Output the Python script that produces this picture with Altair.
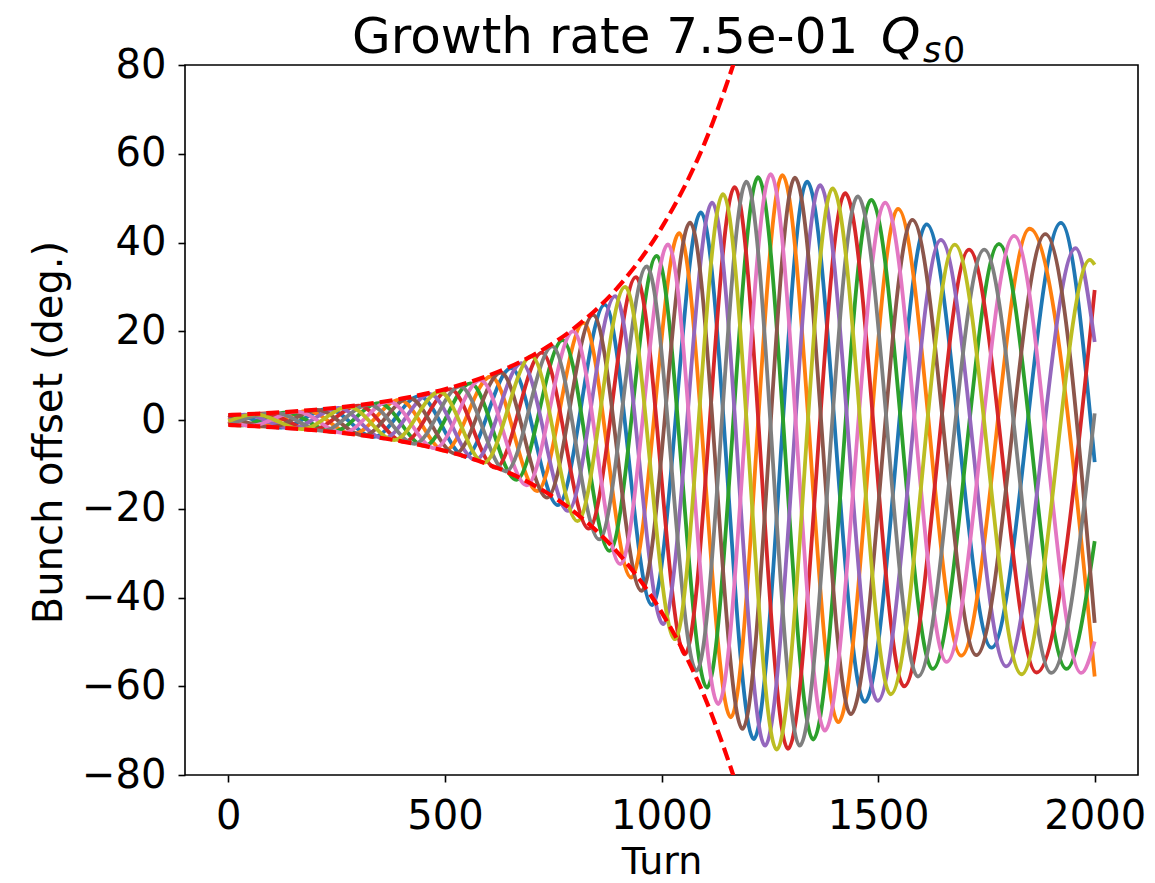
import altair as alt
import pandas as pd

# ---- bunch offsets: extrema (turn, deg.), per bunch ----
b0_turn = [0, 14, 122, 230, 336, 441, 547, 653, 761, 869, 978, 1091, 1213, 1336, 1469, 1612, 1762, 1922, 2000]
b0_off = [1.02, 1.12, -1.74, 2.48, -3.80, 5.38, -8.24, 11.7, -19.2, 26.0, -41.7, 46.8, -71.9, 53.7, -63.5, 44.1, -51.3, 44.4, -9.5]

b1_turn = [0, 75, 182, 288, 395, 500, 606, 713, 820, 930, 1041, 1160, 1279, 1408, 1546, 1692, 1850, 2000]
b1_off = [0.63, -1.46, 2.07, -3.19, 4.53, -6.94, 9.8, -16.0, 21.9, -35.5, 42.1, -67.0, 55.2, -68.1, 47.6, -53.1, 43.1, -57.8]

b2_turn = [0, 27, 134, 241, 348, 453, 559, 665, 772, 880, 989, 1105, 1223, 1350, 1484, 1626, 1779, 1935, 2000]
b2_off = [-0.8, -1.23, 1.74, -2.69, 3.81, -5.84, 8.26, -13.5, 18.0, -29.5, 37.0, -60.3, 54.7, -72.0, 49.6, -56.1, 39.7, -56.1, -27.3]

b3_turn = [0, 86, 193, 301, 406, 512, 617, 724, 832, 941, 1054, 1169, 1292, 1424, 1560, 1710, 1866, 2000]
b3_off = [-0.9, 1.46, -2.25, 3.22, -4.92, 6.95, -10.8, 15.2, -24.5, 32.2, -52.8, 52.5, -74.1, 51.1, -60.0, 38.4, -56.9, 29.3]

b4_turn = [0, 38, 146, 254, 359, 465, 571, 677, 784, 893, 1004, 1117, 1239, 1366, 1499, 1645, 1796, 1956, 2000]
b4_off = [0.49, 1.23, -1.90, 2.71, -4.14, 5.86, -9.0, 12.8, -20.5, 27.9, -46.0, 49.0, -73.4, 52.9, -63.3, 40.6, -55.5, 38.7, 17.6]

b5_turn = [0, 99, 206, 312, 418, 524, 629, 736, 842, 954, 1066, 1187, 1308, 1437, 1579, 1727, 1886, 2000]
b5_off = [1.07, -1.60, 2.27, -3.48, 4.93, -7.58, 10.7, -17.5, 23.7, -38.5, 44.5, -69.6, 54.6, -66.3, 45.1, -53.0, 41.9, -45.7]

b6_turn = [0, 51, 158, 265, 371, 477, 582, 689, 796, 905, 1015, 1131, 1252, 1377, 1516, 1658, 1814, 1969, 2000]
b6_off = [-0.1, -1.34, 1.90, -2.93, 4.16, -6.38, 9.0, -14.7, 20.0, -32.5, 39.6, -64.0, 55.4, -70.0, 49.0, -54.5, 41.5, -57.0, -49.9]

b7_turn = [0, 110, 217, 325, 430, 535, 641, 748, 856, 966, 1081, 1196, 1319, 1453, 1592, 1745, 1900, 2000]
b7_off = [-1.1, 1.59, -2.46, 3.49, -5.37, 7.57, -11.6, 16.6, -26.9, 34.6, -56.5, 53.7, -73.4, 50.4, -57.8, 38.4, -57.0, 1.5]

b8_turn = [0, 62, 170, 278, 383, 488, 590, 700, 806, 916, 1031, 1142, 1266, 1395, 1529, 1677, 1831, 1989, 2000]
b8_off = [-0.27, 1.33, -2.07, 2.95, -4.52, 6.37, -9.6, 14.4, -22.8, 30.0, -49.4, 50.9, -74.3, 52.2, -61.8, 39.5, -57.3, 36.1, 35.0]

# ---- red dashed growth envelope ----
env_turn = [0, 100, 200, 300, 400, 500, 600, 700, 800, 900, 1000, 1100, 1200]
env_upper = [1.11, 1.60, 2.31, 3.33, 4.81, 6.94, 10.0, 14.4, 20.8, 30.0, 43.3, 62.5, 90.2]
env_lower = [-1.11, -1.60, -2.31, -3.33, -4.81, -6.94, -10.0, -14.4, -20.8, -30.0, -43.3, -62.5, -90.2]

x_ticks = [0, 500, 1000, 1500, 2000]
y_ticks = [-80, -60, -40, -20, 0, 20, 40, 60, 80]

tab10 = ["#1f77b4", "#ff7f0e", "#2ca02c", "#d62728", "#9467bd",
         "#8c564b", "#e377c2", "#7f7f7f", "#bcbd22"]

turns = [b0_turn, b1_turn, b2_turn, b3_turn, b4_turn, b5_turn, b6_turn, b7_turn, b8_turn]
offs = [b0_off, b1_off, b2_off, b3_off, b4_off, b5_off, b6_off, b7_off, b8_off]

rows = []
for b, (tt, vv) in enumerate(zip(turns, offs)):
    for t, v in zip(tt, vv):
        rows.append({"turn": t, "offset": v, "bunch": b})
df = pd.DataFrame(rows)

env_rows = []
for t, v in zip(env_turn, env_upper):
    env_rows.append({"turn": t, "offset": v, "side": "upper"})
for t, v in zip(env_turn, env_lower):
    env_rows.append({"turn": t, "offset": v, "side": "lower"})
env = pd.DataFrame(env_rows)

FONT = "DejaVu Sans"
W, H = 953, 710

x_enc = alt.X("turn:Q",
              scale=alt.Scale(domain=[-100, 2100], nice=False, zero=False),
              axis=alt.Axis(values=x_ticks, title="Turn", format="d",
                            labelBaseline="alphabetic", labelPadding=46,
                            titleY=98, titleX=W / 2, titleBaseline="alphabetic",
                            titleAlign="center", titleFontSize=38))
y_enc = alt.Y("offset:Q",
              scale=alt.Scale(domain=[-80, 80], nice=False, zero=False),
              axis=alt.Axis(values=y_ticks, title="Bunch offset (deg.)",
                            labelExpr="datum.value < 0 ? '\u2212' + abs(datum.value) : '' + datum.value",
                            labelPadding=12, titleX=-124, titleY=H / 2 + 12,
                            titleAngle=-90, titleAlign="center",
                            titleBaseline="alphabetic"))

lines = alt.Chart(df).mark_line(interpolate="monotone", strokeWidth=3.8, clip=True).encode(
    x=x_enc, y=y_enc,
    color=alt.Color("bunch:N", scale=alt.Scale(domain=list(range(9)), range=tab10), legend=None),
    order=alt.Order("turn:Q"),
)

dashed = alt.Chart(env).mark_line(color="#ff0000", strokeDash=[13, 6], strokeWidth=4.2,
                                  interpolate="monotone", clip=True).encode(
    x="turn:Q", y="offset:Q", detail="side:N", order=alt.Order("turn:Q"))

title_df = pd.DataFrame({"a": ["Growth rate 7.5e-01"], "q": ["Q"], "s": ["s"], "z": ["0"]})
t_main = alt.Chart(title_df).mark_text(font=FONT, fontSize=50, align="left", baseline="alphabetic",
                                       color="black").encode(text="a:N", x=alt.value(167), y=alt.value(-12))
t_q = alt.Chart(title_df).mark_text(font=FONT, fontSize=50, fontStyle="italic", align="left",
                                    baseline="alphabetic", color="black").encode(
    text="q:N", x=alt.value(696), y=alt.value(-12))
t_s = alt.Chart(title_df).mark_text(font=FONT, fontSize=35, fontStyle="italic", align="left",
                                    baseline="alphabetic", color="black").encode(
    text="s:N", x=alt.value(738), y=alt.value(-3))
t_z = alt.Chart(title_df).mark_text(font=FONT, fontSize=35, align="left",
                                    baseline="alphabetic", color="black").encode(
    text="z:N", x=alt.value(758), y=alt.value(-3))

chart = alt.layer(lines, dashed, t_main, t_q, t_s, t_z).properties(
    width=W, height=H,
    padding={"left": 177, "top": 57, "right": 9, "bottom": 116},
    autosize=alt.AutoSizeParams(type="none"),
    background="white",
).configure_view(
    stroke="black", strokeWidth=1.6
).configure_axis(
    domain=False, grid=False, ticks=True, tickColor="black", tickSize=7, tickWidth=1.6,
    labelFont=FONT, labelFontSize=40, labelColor="black",
    titleFont=FONT, titleFontSize=40, titleFontWeight="normal", titleColor="black",
)

chart.save("out.html", embed_options={"renderer": "svg", "actions": False})
